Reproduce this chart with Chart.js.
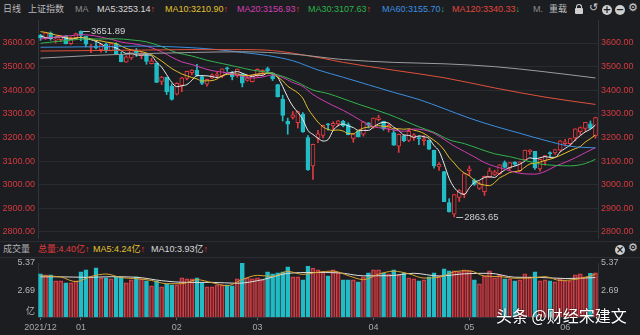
<!DOCTYPE html>
<html lang="zh">
<head>
<meta charset="UTF-8">
<title>上证指数 日线</title>
<script src="https://cdn.jsdelivr.net/npm/chart.js"></script>
<style>
  body { margin:0; width:640px; height:335px; overflow:hidden; position:relative; background:#1c1d21;
         font-family:"Liberation Sans","Noto Sans CJK SC",sans-serif; font-size:9px; }
  .row span { position:absolute; white-space:nowrap; line-height:11px; }
  #top span { top:4px; }
  #volhead span { top:244px; }
  .up { color:#e8393f; }
  .dn { color:#2fbf4f; }
  .line { position:absolute; left:0; width:640px; height:1px; background:#2c2d33; }
  .btn { position:absolute; width:10px; height:10px; border-radius:50%; background:#cfcfcf; color:#1c1d21;
         font:bold 10px/10px "DejaVu Sans",sans-serif; text-align:center; }
  .lock { position:absolute; left:575px; top:8px; width:8px; height:6px; background:#cfcfcf; border-radius:1px; }
  .lock:before { content:""; position:absolute; left:1px; top:-4px; width:4px; height:4px; border:1px solid #cfcfcf;
                 border-bottom:none; border-radius:3px 3px 0 0; }
  canvas { position:absolute; left:0; }
  #mark { position:absolute; left:496px; top:306px; color:#fff; font:16px/18px "Noto Sans CJK SC",sans-serif;
          text-shadow:0 0 2px rgba(0,0,0,0.6); white-space:nowrap; }
</style>
</head>
<body>
<div id="top" class="row">
  <span style="left:3px;color:#b9b9b9">日线</span>
  <span style="left:28px;color:#b9b9b9">上证指数</span>
  <span style="left:75px;color:#8c8c8c">MA</span>
  <span style="left:97px;color:#d9d9d9">MA5:3253.14<b class="up">↑</b></span>
  <span style="left:165px;color:#e3c22e">MA10:3210.90<b class="up">↑</b></span>
  <span style="left:237px;color:#d43fb4">MA20:3156.93<b class="up">↑</b></span>
  <span style="left:308px;color:#2db34a">MA30:3107.63<b class="up">↑</b></span>
  <span style="left:382px;color:#3b8fe0">MA60:3155.70<b class="dn">↓</b></span>
  <span style="left:452px;color:#e0473a">MA120:3340.33<b class="dn">↓</b></span>
  <span style="left:533px;color:#8c8c8c">M.</span>
  <span style="left:549px;color:#bdbdbd">重载</span>
  <span style="left:589px;top:2px;color:#cfcfcf;font-size:11px">↺</span>
  <span style="left:628px;top:2px;color:#cfcfcf;font-size:11px">⚙</span>
</div>
<div class="lock"></div>
<div class="btn" style="left:602px;top:5px">+</div>
<div class="btn" style="left:615px;top:5px">−</div>

<div class="line" style="top:241px"></div>
<div id="volhead" class="row">
  <span style="left:3px;color:#b0b0b0">成交量</span>
  <span style="left:38px;color:#e0393f">总量:4.40亿<b class="up">↑</b></span>
  <span style="left:93px;color:#e3c22e">MA5:4.24亿<b class="up">↑</b></span>
  <span style="left:151px;color:#d8d8d8">MA10:3.93亿<b class="up">↑</b></span>
  <span style="left:628px;top:242px;color:#cfcfcf;font-size:11px">⚙</span>
</div>
<div class="btn" style="left:615px;top:245px">×</div>
<div class="line" style="top:257px"></div>

<canvas id="price" width="640" height="238" style="top:10px"></canvas>
<canvas id="vol" width="640" height="82" style="top:253px"></canvas>
<div id="mark">头条 @财经宋建文</div>

<script>
// trading days shown, 2021-12-22 .. 2022-06-10
const dates = ['12-22','12-23','12-24','12-27','12-28','12-29','12-30','12-31',
  '01-04','01-05','01-06','01-07','01-10','01-11','01-12','01-13','01-14','01-17','01-18','01-19','01-20','01-21','01-24','01-25','01-26','01-27','01-28',
  '02-07','02-08','02-09','02-10','02-11','02-14','02-15','02-16','02-17','02-18','02-21','02-22','02-23','02-24','02-25','02-28',
  '03-01','03-02','03-03','03-04','03-07','03-08','03-09','03-10','03-11','03-14','03-15','03-16','03-17','03-18','03-21','03-22','03-23','03-24','03-25','03-28','03-29','03-30','03-31',
  '04-01','04-06','04-07','04-08','04-11','04-12','04-13','04-14','04-15','04-18','04-19','04-20','04-21','04-22','04-25','04-26','04-27','04-28','04-29',
  '05-05','05-06','05-09','05-10','05-11','05-12','05-13','05-16','05-17','05-18','05-19','05-20','05-23','05-24','05-25','05-26','05-27','05-30','05-31',
  '06-01','06-02','06-06','06-07','06-08','06-09','06-10'];

const open = [3633,3621,3642,3612,3614,3630,3597,3622,
  3649,3628,3582,3588,3572,3594,3568,3598,3548,3519,3537,3566,3546,3550,3513,3515,3437,3455,3418,
  3383,3420,3450,3474,3484,3458,3426,3451,3463,3459,3495,3473,3462,3468,3442,3436,
  3464,3477,3492,3460,3424,3363,3268,3285,3263,3298,3200,3080,3197,3209,3257,3249,3258,3268,3255,3196,3226,3214,3262,
  3245,3276,3268,3240,3221,3163,3208,3188,3199,3199,3187,3188,3146,3075,3056,2925,2875,2946,2962,
  3060,3019,2985,2971,3031,3044,3047,3094,3070,3096,3060,3106,3140,3141,3067,3101,3136,3135,3146,
  3174,3174,3198,3225,3238,3258,3207];
const high = [3637,3644,3647,3622,3632,3632,3626,3642,
  3651.89,3629,3594,3607,3594,3600,3598,3601,3561,3546,3571,3577,3562,3551,3535,3516,3459,3456,3427,
  3432,3455,3481,3487,3510,3460,3447,3470,3476,3491,3498,3480,3490,3471,3464,3465,
  3491,3487,3498,3469,3425,3379,3282,3310,3312,3305,3208,3172,3230,3253,3260,3266,3272,3273,3262,3216,3228,3267,3263,
  3283,3294,3269,3257,3232,3215,3209,3235,3217,3205,3208,3189,3147,3094,3057,2941,2959,2980,3048,
  3079,3025,3012,3037,3071,3061,3085,3101,3094,3098,3097,3147,3149,3142,3108,3124,3139,3149,3187,
  3192,3196,3237,3245,3264,3270,3286];
const low = [3611,3615,3612,3600,3606,3596,3594,3618,
  3610,3583,3559,3575,3561,3560,3566,3554,3520,3518,3530,3543,3533,3510,3511,3432,3424,3382,3358,
  3380,3394,3444,3465,3460,3424,3417,3449,3458,3453,3480,3444,3455,3414,3438,3435,
  3455,3464,3472,3441,3371,3270,3214,3278,3240,3222,3061,3023,3178,3198,3231,3235,3249,3245,3211,3180,3202,3206,3240,
  3239,3270,3231,3223,3166,3137,3182,3183,3188,3170,3168,3148,3070,3061,2928,2884,2863.65,2929,2945,
  3039,2997,2980,2955,3030,3039,3043,3070,3063,3082,3055,3106,3128,3065,3058,3083,3116,3128,3142,
  3164,3165,3186,3211,3226,3236,3197];
const close = [3622.62,3643.34,3618.05,3615.97,3630.11,3597.00,3619.19,3639.78,
  3632.33,3595.18,3586.08,3579.54,3593.52,3567.44,3597.43,3555.26,3521.26,3541.67,3569.91,3558.18,3555.06,3522.57,3524.11,3433.06,3455.67,3394.25,3361.44,
  3429.58,3452.63,3479.95,3485.91,3462.95,3428.88,3446.09,3465.83,3468.04,3490.76,3490.61,3457.15,3489.15,3429.96,3451.41,3462.31,
  3488.83,3484.19,3481.11,3447.65,3372.86,3293.53,3256.39,3296.09,3309.75,3223.53,3063.97,3170.71,3215.04,3251.07,3253.69,3259.86,3271.03,3250.26,3212.24,3214.50,3203.94,3266.60,3252.20,
  3282.72,3283.43,3236.70,3251.85,3167.13,3213.33,3186.82,3225.64,3211.24,3195.52,3194.03,3151.05,3079.81,3086.92,2928.51,2886.43,2958.28,2975.48,3047.06,
  3067.76,3001.56,3004.14,3035.84,3058.70,3054.99,3084.28,3073.75,3093.70,3085.98,3096.96,3146.57,3146.86,3070.93,3107.46,3123.11,3130.24,3149.06,3186.43,
  3182.16,3195.46,3236.37,3241.76,3263.79,3238.95,3284.83];

// volume, 亿
const volume = [4.3,4.2,4.2,3.6,3.6,3.4,3.4,3.6,4.5,4.7,
  4.0,4.9,3.9,3.9,3.8,4.0,4.0,3.4,3.7,4.0,
  3.8,3.6,3.1,3.6,3.0,3.3,3.2,3.2,3.9,3.8,
  3.8,3.9,3.4,3.0,3.0,3.2,3.2,3.2,3.1,3.8,
  5.37,3.9,3.8,3.9,3.7,4.5,4.3,4.4,4.5,5.0,
  4.0,4.0,3.7,5.05,4.85,4.7,4.5,4.1,4.7,4.4,
  3.7,3.7,3.7,3.5,4.0,4.4,4.7,4.7,4.4,4.3,
  4.7,4.2,4.4,3.9,3.8,3.6,3.7,4.0,4.4,4.1,
  4.8,4.6,4.6,4.5,4.7,4.6,3.7,3.3,4.1,4.6,
  3.9,4.2,3.8,3.8,3.6,3.7,4.3,4.0,4.5,3.6,
  3.7,3.6,3.5,3.8,3.6,3.6,4.2,4.3,4.0,4.35,4.4];

// moving average lines
const ma5 = [3630,3623,3621,3625,3626,3621,3616,3620,3624,3617,
  3614,3607,3597,3584,3585,3579,3567,3556,3557,3549,
  3549,3550,3546,3519,3498,3466,3434,3415,3419,3424,
  3442,3462,3462,3461,3458,3454,3460,3472,3475,3479,
  3472,3464,3458,3464,3463,3473,3473,3455,3416,3370,
  3333,3306,3276,3230,3213,3197,3185,3191,3230,3250,
  3257,3249,3242,3230,3230,3230,3244,3258,3264,3261,
  3244,3230,3211,3209,3201,3207,3203,3196,3166,3142,
  3088,3027,2988,2967,2959,2987,3010,3019,3031,3034,
  3031,3048,3062,3073,3079,3087,3100,3114,3110,3114,
  3119,3116,3116,3139,3154,3168,3190,3208,3224,3235,3253];
const ma10 = [3648,3645,3640,3634,3630,3625,3620,3621,3624,3621,
  3618,3611,3609,3604,3601,3597,3587,3577,3571,3567,
  3564,3558,3551,3538,3524,3508,3492,3480,3469,3461,
  3454,3448,3439,3440,3441,3448,3461,3467,3468,3469,
  3463,3462,3465,3469,3471,3473,3468,3456,3440,3417,
  3403,3389,3366,3323,3292,3265,3245,3234,3230,3232,
  3227,3217,3216,3230,3240,3244,3247,3250,3247,3246,
  3237,3237,3235,3237,3231,3226,3217,3203,3188,3171,
  3147,3115,3092,3067,3050,3038,3018,3004,2999,2996,
  3009,3029,3040,3052,3056,3059,3074,3088,3091,3096,
  3103,3108,3115,3124,3134,3144,3153,3162,3181,3195,3211];
const ma20 = [[0,3617],[2,3622],[4,3628],[6,3631],[8,3635],[10,3633],[12,3625],[14,3616],[16,3604],[18,3598],
  [20,3591],[22,3580],[24,3563],[26,3540],[28,3520],[30,3509],[32,3495],[34,3483],[36,3477],[38,3469],
  [40,3459],[42,3452],[44,3456],[46,3465],[48,3454],[50,3433],[52,3416],[54,3382],[56,3357],[58,3335],
  [60,3315],[62,3291],[64,3266],[66,3246],[68,3239],[70,3232],[72,3226],[74,3236],[76,3232],[78,3218],
  [80,3192],[82,3164],[84,3141],[86,3118],[88,3094],[90,3078],[92,3066],[94,3053],[96,3046],[98,3045],
  [100,3056],[102,3078],[104,3095],[106,3114],[108,3136],[110,3157]];
const ma30 = [[0,3599],[3,3606],[6,3612],[9,3617],[12,3617],[15,3618],[18,3613],[21,3605],[24,3585],[27,3559],
  [30,3545],[33,3527],[36,3513],[39,3499],[42,3485],[45,3476],[48,3459],[51,3433],[54,3401],[57,3386],
  [60,3364],[63,3341],[66,3320],[69,3298],[72,3272],[75,3245],[78,3222],[81,3190],[84,3174],[87,3152],
  [90,3131],[93,3119],[96,3103],[99,3088],[102,3082],[105,3080],[108,3090],[110,3108]];
const ma60 = [[0,3582],[10,3584],[20,3587],[30,3580],[35,3572],[40,3560],[45,3547],[50,3525],[55,3486],
  [60,3455],[65,3423],[70,3391],[75,3361],[80,3322],[85,3282],[90,3248],[95,3218],[100,3188],[105,3163],[110,3156]];
const ma120 = [[0,3566],[10,3568],[20,3570],[30,3572],[40,3572],[46,3568],[52,3550],[56,3535],[60,3518],
  [70,3485],[80,3453],[90,3410],[100,3371],[110,3340]];
const ma250 = [[0,3536],[10,3547],[20,3555],[30,3560],[40,3563],[50,3553],[60,3530],[70,3518],[80,3512],
  [90,3500],[100,3478],[110,3452]];
const volMa5 = [[0,4.1],[4,3.98],[7,3.52],[10,4.04],[13,4.28],[16,3.92],[19,3.82],[22,3.64],[25,3.32],[28,3.32],
  [31,3.72],[34,3.42],[37,3.12],[40,3.73],[43,4.15],[46,4.04],[49,4.54],[52,4.24],[55,4.46],[58,4.57],
  [61,4.12],[64,3.72],[67,4.26],[70,4.56],[73,4.3],[76,3.88],[79,3.96],[82,4.5],[85,4.6],[88,4.08],
  [91,4.02],[94,3.86],[97,3.88],[100,4.02],[103,3.64],[106,3.74],[109,4.09],[110,4.25]];
const volMa10 = [[0,4.0],[4,4.0],[9,3.95],[14,4.01],[19,3.96],[24,3.62],[29,3.45],[34,3.45],[39,3.36],[44,3.72],
  [49,4.34],[54,4.43],[59,4.4],[64,4.1],[69,4.11],[74,4.35],[79,4.08],[84,4.3],[89,4.35],[94,3.96],
  [99,3.94],[104,3.83],[110,3.93]];

const priceTicks = [2800,2900,3000,3100,3200,3300,3400,3500,3600];
const volTicks = [0, 2.69, 5.37];

const UP = '#e23a3f', DOWN = '#22bcc6', BG = '#1c1d21';
const FONT = '"Liberation Sans","Noto Sans CJK SC",sans-serif';
Chart.defaults.font.family = FONT;
Chart.defaults.font.size = 9;

const isUp = i => close[i] >= open[i];
// sampled points keyed by the category label, so they land on the right day
const pts = arr => arr.map(([i, v]) => ({x: dates[i], y: v}));
const monthLabel = i => i === 0 ? '2021/12' : (dates[i].slice(0, 2) !== dates[i - 1].slice(0, 2) ? dates[i].slice(0, 2) : '');

function maLine(data, color) {
  return {type: 'line', data: data, borderColor: color, borderWidth: 1, pointRadius: 0,
          cubicInterpolationMode: 'monotone', spanGaps: true, order: 1};
}

// labels for the highest high and lowest low
const extremes = {
  id: 'extremes',
  afterDatasetsDraw(chart) {
    const {ctx, scales: {x, y}} = chart;
    const hi = high.indexOf(Math.max(...high));
    const lo = low.indexOf(Math.min(...low));
    ctx.save();
    ctx.strokeStyle = '#bdbdbd';
    ctx.fillStyle = '#cfcfcf';
    ctx.lineWidth = 1;
    ctx.font = '9.5px ' + FONT;
    ctx.textBaseline = 'middle';
    [[hi, high[hi]], [lo, low[lo]]].forEach(([i, v]) => {
      const px = x.getPixelForValue(i), py = Math.round(y.getPixelForValue(v)) + 0.5;
      ctx.beginPath();
      ctx.moveTo(px + 2, py);
      ctx.lineTo(px + 9, py);
      ctx.stroke();
      ctx.fillText(v.toFixed(2), px + 10, py);
    });
    ctx.restore();
  }
};

function priceAxis(pos, width) {
  return {
    position: pos, min: 2774.6, max: 3697.4,
    afterBuildTicks: s => { s.ticks = priceTicks.map(v => ({value: v})); },
    afterFit: s => { s.width = width; },
    ticks: {color: '#d63a40', padding: 3, callback: v => v.toFixed(2)},
    grid: {display: pos === 'left', color: '#2a2b31', drawTicks: false},
    border: {color: '#33343a'}
  };
}

new Chart(document.getElementById('price'), {
  type: 'bar',
  data: {
    labels: dates,
    datasets: [
      maLine(pts(ma250), '#9c9c9c'),
      maLine(pts(ma120), '#e0513a'),
      maLine(pts(ma60), '#3b8fe0'),
      maLine(pts(ma30), '#33b24c'),
      maLine(pts(ma20), '#d23db2'),
      maLine(ma10, '#e6c02c'),
      maLine(ma5, '#ececec'),
      {
        data: dates.map((d, i) => [open[i], close[i]]),
        backgroundColor: dates.map((d, i) => isUp(i) ? BG : DOWN),
        borderColor: dates.map((d, i) => isUp(i) ? UP : DOWN),
        borderWidth: 1, borderSkipped: false, barThickness: 4, minBarLength: 1,
        grouped: false, order: 5
      },
      {
        data: dates.map((d, i) => [low[i], high[i]]),
        backgroundColor: dates.map((d, i) => isUp(i) ? UP : DOWN),
        barThickness: 1, grouped: false, order: 6
      }
    ]
  },
  options: {
    responsive: false,
    animation: false,
    layout: {padding: {top: 10, bottom: 10, left: 0, right: 0}},
    plugins: {legend: {display: false}, tooltip: {enabled: false}},
    scales: {
      x: {display: false, offset: true},
      y: priceAxis('left', 38),
      y2: priceAxis('right', 42)
    }
  },
  plugins: [extremes]
});

function volAxis(pos, width) {
  return {
    position: pos, min: 0, max: 5.37,
    afterBuildTicks: s => { s.ticks = volTicks.map(v => ({value: v})); },
    afterFit: s => { s.width = width; },
    ticks: {color: '#b5b5b5', padding: 3,
            callback: v => v === 0 ? (pos === 'left' ? ['亿', ''] : '') : v.toFixed(2)},
    grid: {display: false, drawTicks: false},
    border: {color: '#33343a'}
  };
}

new Chart(document.getElementById('vol'), {
  type: 'bar',
  data: {
    labels: dates,
    datasets: [
      {type: 'line', data: pts(volMa10), borderColor: '#dedede', borderWidth: 1, pointRadius: 0,
       cubicInterpolationMode: 'monotone', spanGaps: true, order: 1},
      {type: 'line', data: pts(volMa5), borderColor: '#d9a431', borderWidth: 1, pointRadius: 0,
       cubicInterpolationMode: 'monotone', spanGaps: true, order: 0},
      {
        data: volume,
        backgroundColor: dates.map((d, i) => isUp(i) ? 'rgba(160,42,48,0.55)' : DOWN),
        borderColor: dates.map((d, i) => isUp(i) ? '#d8424a' : DOWN),
        borderWidth: 1, borderSkipped: 'start', barThickness: 4, grouped: false, order: 5
      }
    ]
  },
  options: {
    responsive: false,
    animation: false,
    layout: {padding: {top: 10, bottom: 0, left: 0, right: 0}},
    plugins: {legend: {display: false}, tooltip: {enabled: false}},
    scales: {
      x: {
        offset: true,
        grid: {display: true, drawOnChartArea: false, offset: false, tickLength: 3,
               color: c => monthLabel(c.index) ? '#6a6a6a' : 'transparent'},
        border: {color: '#33343a'},
        ticks: {autoSkip: false, maxRotation: 0, color: '#a8a8a8', padding: 2,
                callback: (v, i) => monthLabel(i)}
      },
      y: volAxis('left', 38),
      y2: volAxis('right', 42)
    }
  }
});
</script>
</body>
</html>
